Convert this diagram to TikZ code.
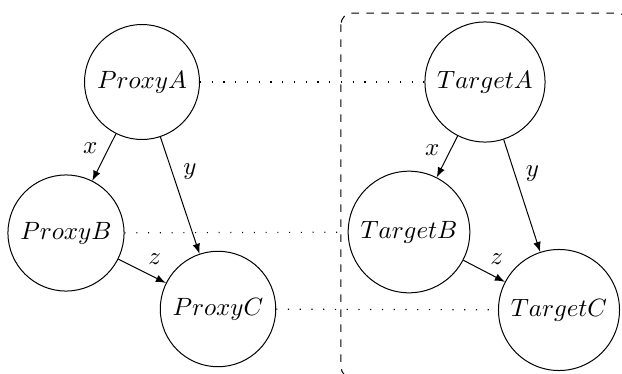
\documentclass[tikz,border=0pt]{standalone}
\usetikzlibrary{arrows}
\begin{document}
\begin{tikzpicture}[x=0.4pt,y=-0.4pt,
  vnode/.style={draw,circle,inner sep=3.6pt},
  arr/.style={-latex,line width=0.4pt},
  link/.style={dash pattern=on 0.45pt off 4.25pt,line width=0.45pt},
  lbl/.style={inner sep=3.33pt}]
\clip (0,0) rectangle (622,374);
\useasboundingbox (0,0) rectangle (622,374);
% group box
\draw[dashed,rounded corners=4.5pt] (341,13) rectangle (628,378);
% nodes
\node[vnode] (pa) at (142,82) {$ProxyA$};
\node[vnode] (pb) at (66,233) {$ProxyB$};
\node[vnode] (pc) at (218,309) {$ProxyC$};
\node[vnode] (ta) at (485,82) {$TargetA$};
\node[vnode] (tb) at (409,232) {$TargetB$};
\node[vnode] (tc) at (559,310) {$TargetC$};
% edges
\draw[arr] (pa) -- node[lbl,pos=0.3,left,xshift=-1pt] {$x$} (pb);
\draw[arr] (pa) -- node[lbl,pos=0.3,right,xshift=1pt] {$y$} (pc);
\draw[arr] (pb) -- node[lbl,pos=0.5,above right,xshift=-1pt,yshift=-1pt] {$z$} (pc);
\draw[arr] (ta) -- node[lbl,pos=0.33,left,xshift=-1pt] {$x$} (tb);
\draw[arr] (ta) -- node[lbl,pos=0.3,right,xshift=1pt] {$y$} (tc);
\draw[arr] (tb) -- node[lbl,pos=0.5,above right,xshift=-1pt,yshift=-1pt] {$z$} (tc);
% links
\draw[link] (pa) -- (ta);
\draw[link] (pb) -- (tb);
\draw[link] (pc) -- (tc);
\end{tikzpicture}
\end{document}
